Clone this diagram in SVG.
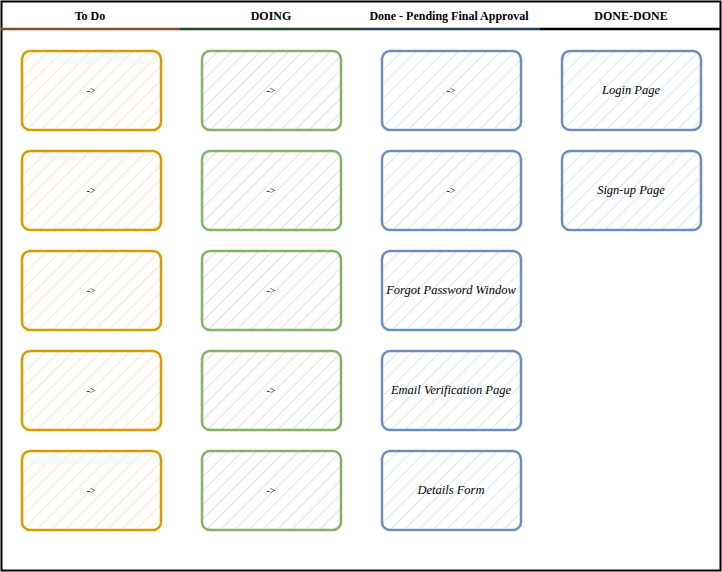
<svg xmlns="http://www.w3.org/2000/svg" width="722" height="572" viewBox="0 0 722 572">
<defs>
<pattern id="hy" patternUnits="userSpaceOnUse" width="10" height="10" patternTransform="rotate(45)"><line x1="0" y1="0" x2="0" y2="10" stroke="#fde3c4" stroke-width="1.8"/></pattern>
<pattern id="hg" patternUnits="userSpaceOnUse" width="10" height="10" patternTransform="rotate(45)"><line x1="0" y1="0" x2="0" y2="10" stroke="#d0e6cf" stroke-width="1.8"/></pattern>
<pattern id="hb" patternUnits="userSpaceOnUse" width="10" height="10" patternTransform="rotate(45)"><line x1="0" y1="0" x2="0" y2="10" stroke="#d4e4f8" stroke-width="1.8"/></pattern>
</defs>
<style>
.hd{font-family:"Liberation Serif",serif;font-size:12px;font-weight:bold;text-anchor:middle;fill:#000}
.lb{font-family:"Liberation Serif",serif;font-size:12.5px;font-style:italic;text-anchor:middle;fill:#000}
.ar{font-family:"Liberation Serif",serif;font-size:10px;text-anchor:middle;fill:#000}
.y{fill:url(#hy);stroke:#d79b00;stroke-width:2.5}
.g{fill:url(#hg);stroke:#82b366;stroke-width:2.5}
.b{fill:url(#hb);stroke:#6c8ebf;stroke-width:2.5}
</style>
<rect x="0" y="0" width="722" height="572" fill="#fff"/>
<g id="board">
<rect x="1.5" y="1.5" width="719" height="569" fill="none" stroke="#000" stroke-width="2"/>
<line x1="1" y1="29" x2="180" y2="29" stroke="#8b4a2b" stroke-width="2.5"/>
<line x1="180" y1="29" x2="360" y2="29" stroke="#1f4a1f" stroke-width="2.5"/>
<line x1="360" y1="29" x2="540" y2="29" stroke="#1f3f5f" stroke-width="2.5"/>
<line x1="540" y1="29" x2="721" y2="29" stroke="#000" stroke-width="2.5"/>
<text class="hd" x="90" y="20">To Do</text>
<text class="hd" x="271" y="20">DOING</text>
<text class="hd" x="449" y="20">Done - Pending Final Approval</text>
<text class="hd" x="631" y="20">DONE-DONE</text>
</g>
<g id="todo1"><rect class="y" x="22" y="51" width="139" height="79" rx="8"/><text class="ar" x="91" y="94">-&gt;</text></g>
<g id="todo2"><rect class="y" x="22" y="151" width="139" height="79" rx="8"/><text class="ar" x="91" y="194">-&gt;</text></g>
<g id="todo3"><rect class="y" x="22" y="251" width="139" height="79" rx="8"/><text class="ar" x="91" y="294">-&gt;</text></g>
<g id="todo4"><rect class="y" x="22" y="351" width="139" height="79" rx="8"/><text class="ar" x="91" y="394">-&gt;</text></g>
<g id="todo5"><rect class="y" x="22" y="451" width="139" height="79" rx="8"/><text class="ar" x="91" y="494">-&gt;</text></g>
<g id="doing1"><rect class="g" x="202" y="51" width="139" height="79" rx="8"/><text class="ar" x="271" y="94">-&gt;</text></g>
<g id="doing2"><rect class="g" x="202" y="151" width="139" height="79" rx="8"/><text class="ar" x="271" y="194">-&gt;</text></g>
<g id="doing3"><rect class="g" x="202" y="251" width="139" height="79" rx="8"/><text class="ar" x="271" y="294">-&gt;</text></g>
<g id="doing4"><rect class="g" x="202" y="351" width="139" height="79" rx="8"/><text class="ar" x="271" y="394">-&gt;</text></g>
<g id="doing5"><rect class="g" x="202" y="451" width="139" height="79" rx="8"/><text class="ar" x="271" y="494">-&gt;</text></g>
<g id="done1"><rect class="b" x="382" y="51" width="139" height="79" rx="8"/><text class="ar" x="451" y="94">-&gt;</text></g>
<g id="done2"><rect class="b" x="382" y="151" width="139" height="79" rx="8"/><text class="ar" x="451" y="194">-&gt;</text></g>
<g id="done3"><rect class="b" x="382" y="251" width="139" height="79" rx="8"/><text class="lb" x="451" y="294">Forgot Password Window</text></g>
<g id="done4"><rect class="b" x="382" y="351" width="139" height="79" rx="8"/><text class="lb" x="451" y="394">Email Verification Page</text></g>
<g id="done5"><rect class="b" x="382" y="451" width="139" height="79" rx="8"/><text class="lb" x="451" y="494">Details Form</text></g>
<g id="donedone1"><rect class="b" x="562" y="51" width="139" height="79" rx="8"/><text class="lb" x="631" y="94">Login Page</text></g>
<g id="donedone2"><rect class="b" x="562" y="151" width="139" height="79" rx="8"/><text class="lb" x="631" y="194">Sign-up Page</text></g>
<g id="connectors"></g>
</svg>
